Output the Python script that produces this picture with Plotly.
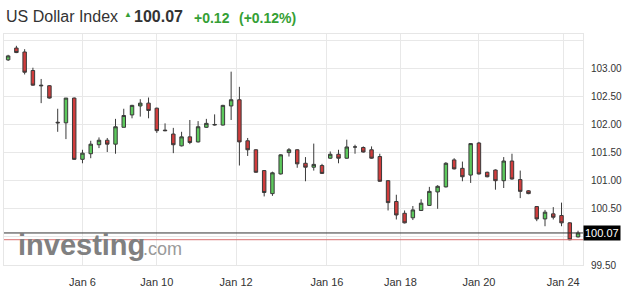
import plotly.graph_objects as go

# ---------------- data ----------------
opens = [103.15, 103.36, 103.29, 102.96, 102.70, 102.69, 102.04, 102.03, 102.47, 101.38,
         101.48, 101.64, 101.72, 101.65, 101.95, 102.17, 102.33, 102.38, 102.29, 101.90,
         101.83, 101.62, 101.78, 101.69, 101.95, 101.99, 101.99, 102.33, 102.44, 101.71,
         101.55, 101.18, 100.77, 101.12, 101.50, 101.55, 101.31, 101.24, 101.27, 101.40,
         101.47, 101.40, 101.60, 101.59, 101.55, 101.43, 101.00, 100.63, 100.42, 100.34,
         100.47, 100.56, 100.80, 100.89, 101.37, 101.22, 101.10, 101.67, 101.15, 101.19,
         101.00, 101.35, 101.02, 100.82, 100.54, 100.32, 100.41, 100.38, 100.25, 100.00]
highs = [103.24, 103.40, 103.34, 103.01, 102.81, 102.70, 102.28, 102.47, 102.48, 101.55,
         101.71, 101.77, 101.76, 102.10, 102.28, 102.35, 102.45, 102.48, 102.30, 102.02,
         101.94, 101.87, 102.08, 102.06, 102.10, 102.18, 102.35, 102.94, 102.67, 101.76,
         101.56, 101.19, 101.16, 101.47, 101.58, 101.56, 101.42, 101.66, 101.30, 101.52,
         101.55, 101.73, 101.64, 101.61, 101.61, 101.48, 101.01, 100.75, 100.47, 100.55,
         100.67, 100.89, 100.92, 101.33, 101.40, 101.34, 101.67, 101.69, 101.16, 101.20,
         101.42, 101.48, 101.18, 100.83, 100.55, 100.48, 100.53, 100.61, 100.26, 100.11]
lows = [103.13, 103.27, 102.89, 102.69, 102.38, 102.46, 101.87, 101.74, 101.37, 101.31,
        101.40, 101.58, 101.51, 101.48, 101.95, 102.11, 102.14, 102.11, 101.85, 101.88,
        101.49, 101.61, 101.65, 101.68, 101.94, 101.98, 101.98, 102.08, 101.27, 101.44,
        101.14, 100.72, 100.73, 101.11, 101.43, 101.23, 100.99, 101.18, 101.12, 101.39,
        101.31, 101.39, 101.48, 101.50, 101.39, 100.98, 100.47, 100.31, 100.24, 100.30,
        100.46, 100.55, 100.50, 100.88, 101.20, 100.99, 100.96, 101.11, 101.06, 100.84,
        100.87, 101.02, 100.69, 100.76, 100.28, 100.19, 100.31, 100.19, 99.94, 99.99]
closes = [103.22, 103.28, 102.93, 102.70, 102.69, 102.47, 102.03, 102.47, 101.38, 101.49,
          101.65, 101.72, 101.65, 101.96, 102.16, 102.34, 102.38, 102.25, 101.89, 101.89,
          101.64, 101.78, 101.68, 101.96, 102.02, 102.00, 102.34, 102.44, 101.69, 101.55,
          101.15, 100.79, 101.14, 101.46, 101.55, 101.30, 101.24, 101.29, 101.13, 101.47,
          101.40, 101.60, 101.60, 101.51, 101.40, 100.99, 100.61, 100.39, 100.25, 100.48,
          100.60, 100.81, 100.90, 101.31, 101.21, 101.07, 101.66, 101.12, 101.07, 101.00,
          101.35, 101.03, 100.81, 100.77, 100.32, 100.44, 100.35, 100.25, 99.95, 100.07]

tick_positions = [9, 18, 27.6, 38.6, 47.5, 57, 67.2]
tick_labels = ["Jan 6", "Jan 10", "Jan 12", "Jan 16", "Jan 18", "Jan 20", "Jan 24"]

y_ticks = [99.5, 100.0, 100.5, 101.0, 101.5, 102.0, 102.5, 103.0, 103.5]
y_labels = ["99.50", "", "100.50", "101.00", "101.50", "102.00", "102.50", "103.00", ""]

instrument = "US Dollar Index"
last_close = closes[-1]
prev_close = 99.95

# ---------------- layout helpers ----------------
W, H = 641, 300
L, R, T, B = 4, 58, 34, 35
PW, PH = W - L - R, H - T - B


def px(p):
    return (p - L) / PW


def py(p):
    return (H - B - p) / PH


FONT = "Arial, Liberation Sans, sans-serif"
GREEN_TXT = "#35a035"

x_idx = list(range(len(opens)))

fig = go.Figure()
fig.add_trace(go.Candlestick(
    x=x_idx, open=opens, high=highs, low=lows, close=closes,
    increasing=dict(line=dict(color="#3a3a3a", width=1), fillcolor="#5cc85c"),
    decreasing=dict(line=dict(color="#3a3a3a", width=1), fillcolor="#d03c3c"),
    whiskerwidth=0,
    showlegend=False,
    hoverinfo="skip",
))

change = last_close - prev_close
pct = change / prev_close * 100

fig.update_layout(
    width=W, height=H,
    margin=dict(l=L, r=R, t=T, b=B),
    paper_bgcolor="white",
    plot_bgcolor="white",
    boxgap=0.4,
    font=dict(family=FONT, color="#333"),
    xaxis=dict(
        range=[-0.5, len(opens) - 0.4],
        rangeslider=dict(visible=False),
        tickmode="array", tickvals=tick_positions, ticktext=tick_labels,
        tickfont=dict(size=11, color="#333", family=FONT),
        showgrid=True, gridcolor="#e8e8e8", gridwidth=1,
        zeroline=False, ticks="", ticklabelstandoff=7,
        showline=True, mirror=True, linecolor="#e6e6e6",
    ),
    yaxis=dict(
        side="right",
        range=[99.5, 103.61],
        tickmode="array", tickvals=y_ticks, ticktext=y_labels,
        tickfont=dict(size=10, color="#333", family=FONT),
        showgrid=True, gridcolor="#e8e8e8", gridwidth=1,
        zeroline=False, ticks="", ticklabelstandoff=5,
        showline=True, mirror=True, linecolor="#e6e6e6",
    ),
)

# reference lines: last close (black) and previous close (red)
fig.add_shape(type="line", xref="paper", yref="y", x0=0, x1=1,
              y0=last_close, y1=last_close, line=dict(color="#333333", width=1))
fig.add_shape(type="line", xref="paper", yref="y", x0=0, x1=1,
              y0=prev_close, y1=prev_close, line=dict(color="#d97070", width=1))

# last price box
fig.add_annotation(xref="paper", yref="y", x=1.0, y=last_close, xanchor="left",
                   yanchor="middle", text=f"{last_close:.2f}", showarrow=False,
                   bgcolor="black", font=dict(color="white", size=11, family=FONT),
                   borderpad=1)

# header
fig.add_annotation(xref="paper", yref="paper", x=px(4), y=py(17), xanchor="left",
                   yanchor="middle", text=instrument, showarrow=False,
                   font=dict(size=16, color="#333", family=FONT))
fig.add_annotation(xref="paper", yref="paper", x=px(121.5), y=py(14), xanchor="left",
                   yanchor="middle", text="▲", showarrow=False,
                   font=dict(size=8, color=GREEN_TXT, family=FONT))
fig.add_annotation(xref="paper", yref="paper", x=px(132), y=py(17), xanchor="left",
                   yanchor="middle", text=f"<b>{last_close:.2f}</b>", showarrow=False,
                   font=dict(size=16, color="#333", family=FONT))
fig.add_annotation(xref="paper", yref="paper", x=px(192), y=py(17.5), xanchor="left",
                   yanchor="middle", text=f"<b>{change:+.2f}</b>", showarrow=False,
                   font=dict(size=14, color=GREEN_TXT, family=FONT))
fig.add_annotation(xref="paper", yref="paper", x=px(237), y=py(17.5), xanchor="left",
                   yanchor="middle", text=f"<b>({pct:+.2f}%)</b>", showarrow=False,
                   font=dict(size=14, color=GREEN_TXT, family=FONT))

# watermark
fig.add_annotation(xref="paper", yref="paper", x=px(16), y=py(245), xanchor="left",
                   yanchor="middle", text="<b>investing</b>", showarrow=False,
                   font=dict(size=29, color="#808080", family=FONT))
fig.add_annotation(xref="paper", yref="paper", x=px(141), y=py(249), xanchor="left",
                   yanchor="middle", text=".com", showarrow=False,
                   font=dict(size=18, color="#9a9a9a", family=FONT))

fig.write_html("out.html")
